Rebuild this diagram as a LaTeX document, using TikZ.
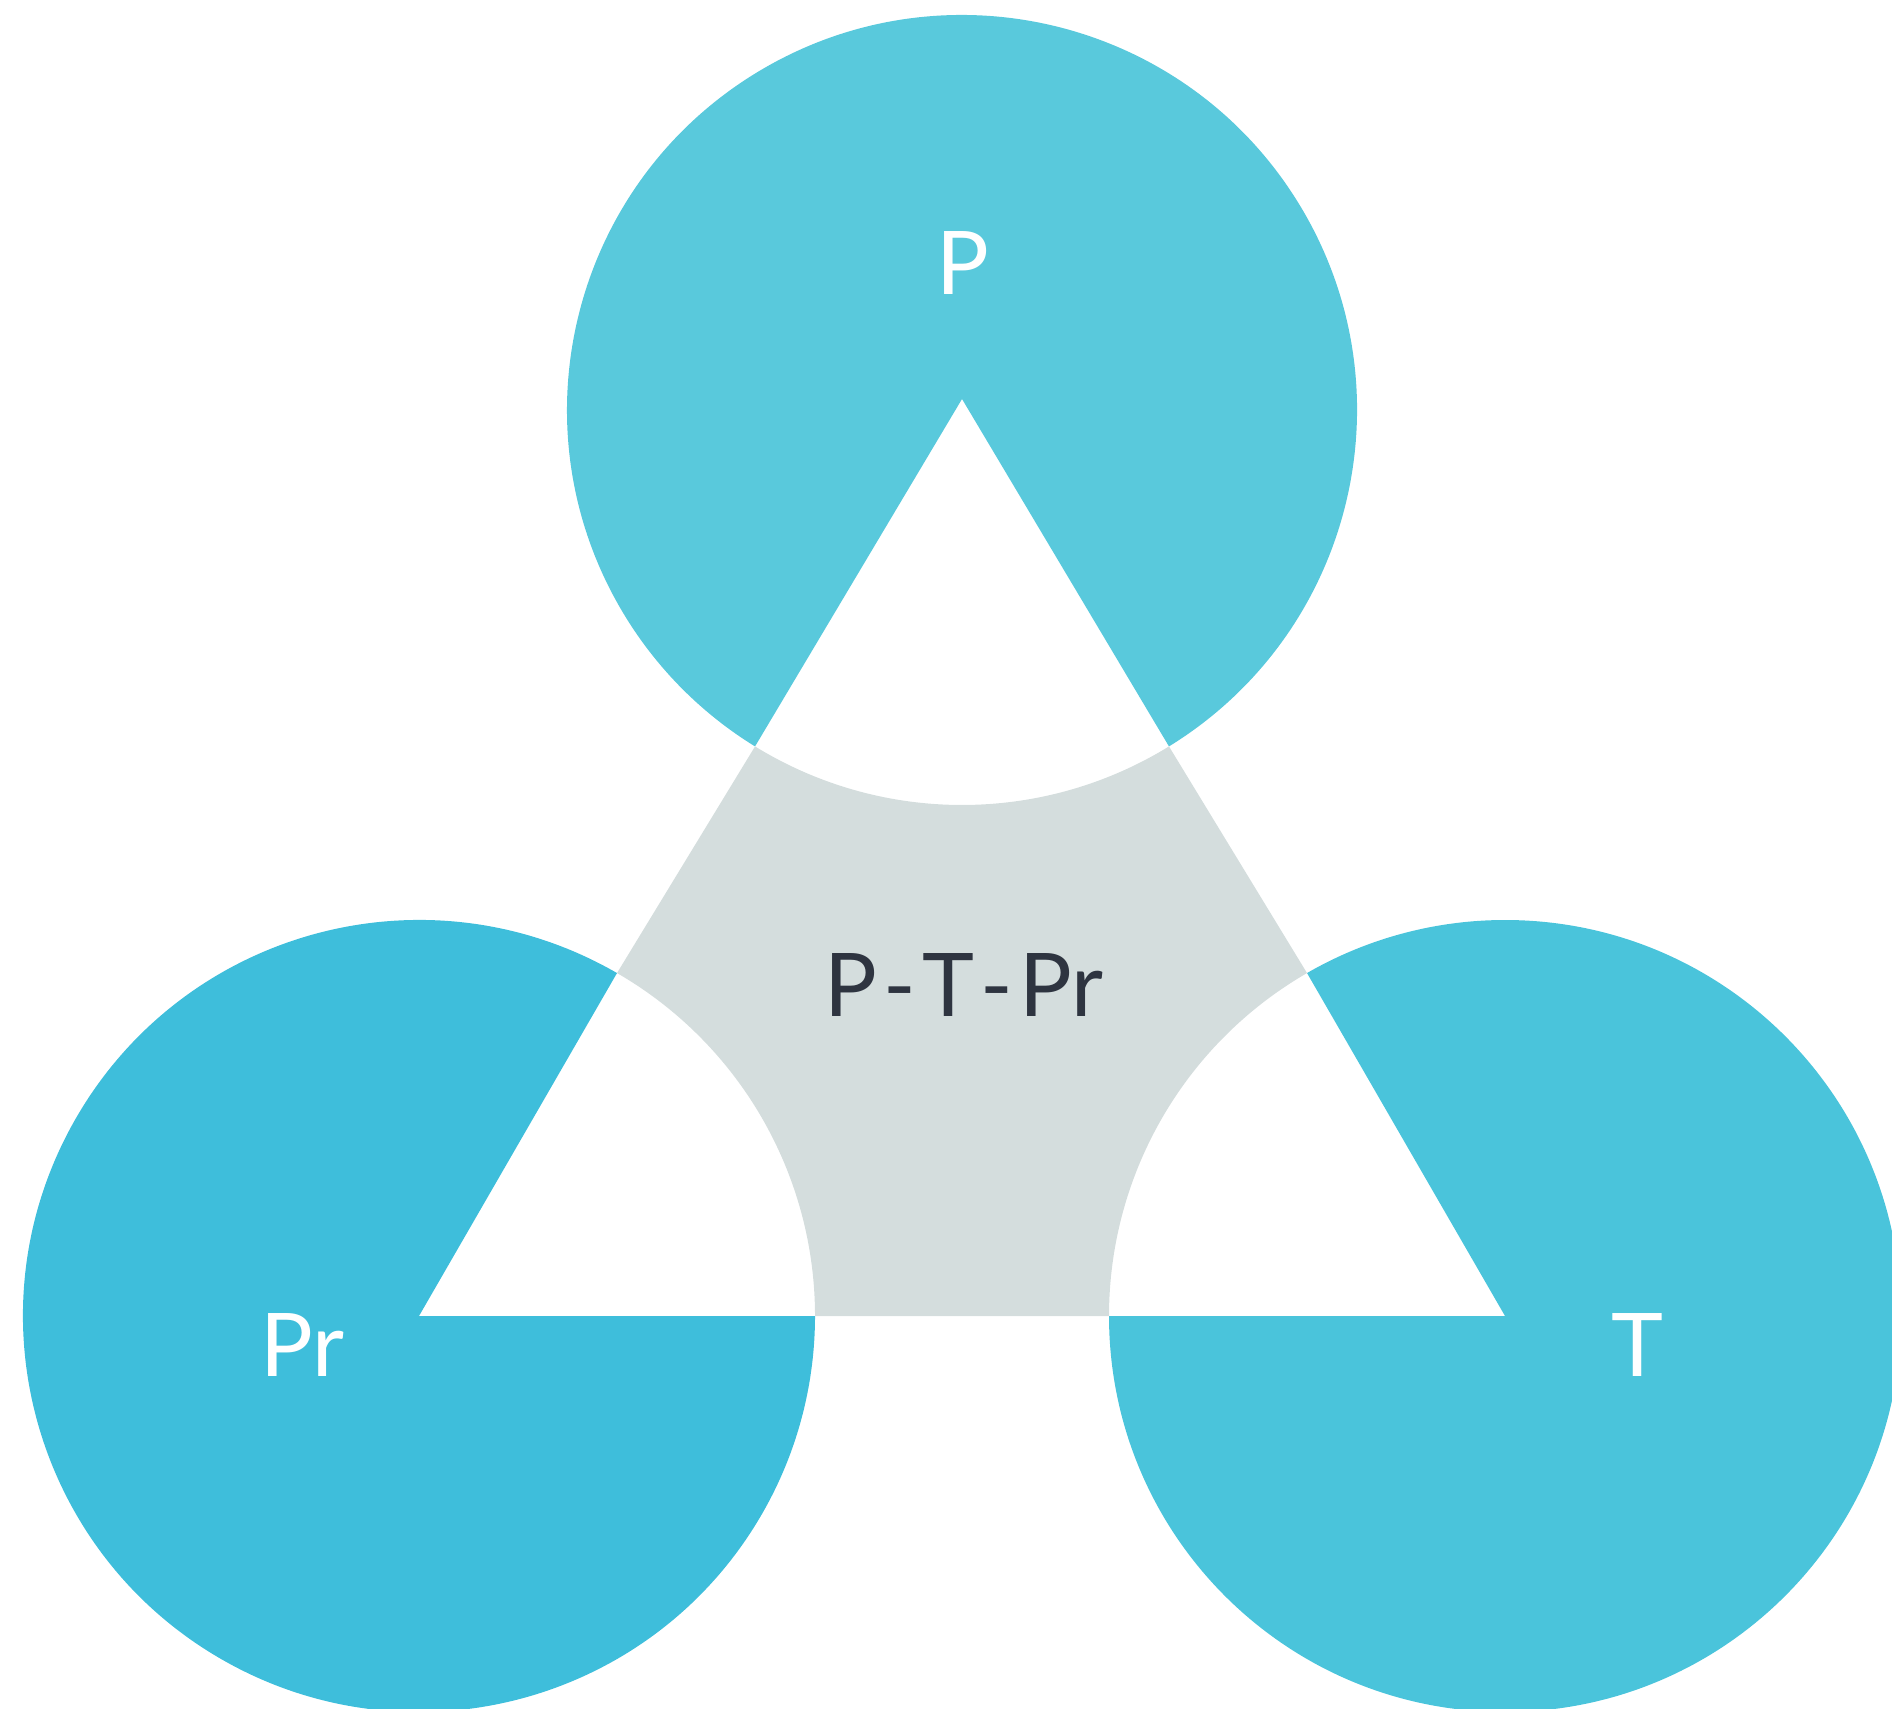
\documentclass[tikz,border=0pt]{standalone}
\usepackage{fontspec}
\setmainfont{Lato}
\usepackage{tikz}
\usetikzlibrary{calc}

\definecolor{topblue}{HTML}{59C9DC}
\definecolor{leftblue}{HTML}{3EBEDB}
\definecolor{rightblue}{HTML}{4AC4DB}
\definecolor{midgray}{HTML}{D4DDDD}
\definecolor{darktext}{HTML}{2E3440}

\begin{document}
\begin{tikzpicture}[x=0.01cm, y=0.01cm,
	lobe/.style = {text=white, font=\fontsize{25}{30}\selectfont},
	core/.style = {text=darktext, font=\fontsize{25}{30}\selectfont}]
	\useasboundingbox (0,0) rectangle (1892,1708);
	\clip (0,0) rectangle (1892,1708);
	% centres of the three lobes
	\coordinate (ct) at (962,1298);
	\coordinate (cl) at (419,392);
	\coordinate (cr) at (1505,392);
	\coordinate (apex) at (962,1309);
	% top lobe
	\fill[topblue] (apex) -- ($(ct)+(301.6:395)$) arc[start angle=301.6, end angle=598.4, radius=395] -- cycle;
	% left lobe
	\fill[leftblue] (cl) -- ($(cl)+(60:396)$) arc[start angle=60, end angle=360, radius=396] -- cycle;
	% right lobe
	\fill[rightblue] (cr) -- ($(cr)+(180:396)$) arc[start angle=180, end angle=480, radius=396] -- cycle;
	% middle part
	\fill[midgray] ($(ct)+(238.4:395)$) -- ($(cl)+(60:396)$) arc[start angle=60, end angle=0, radius=396]
		-- ($(cr)+(180:396)$) arc[start angle=180, end angle=120, radius=396]
		-- ($(ct)+(301.6:395)$) arc[start angle=301.6, end angle=238.4, radius=395] -- cycle;
	\node[lobe] (p) at (963,1445) {P};
	\node[lobe] (pr) at (302,363) {Pr};
	\node[lobe] (t) at (1637,363) {T};
	\node[core] (ptpr) at (964,723) {P\kern1.8pt-\kern1.8pt T\kern1.8pt-\kern1.8pt Pr};
\end{tikzpicture}
\end{document}
